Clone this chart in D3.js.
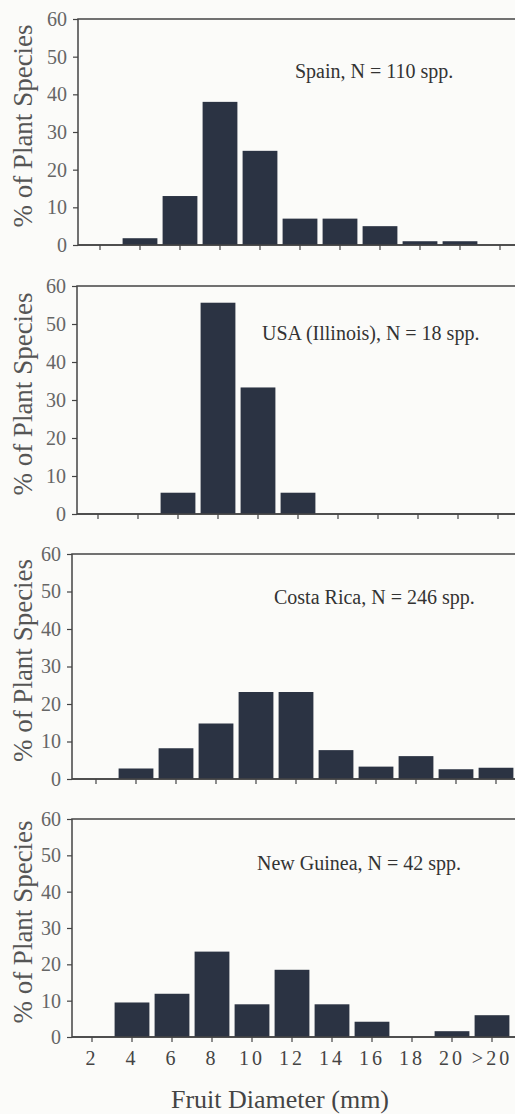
<!DOCTYPE html>
<html lang="en">
<head>
    <meta charset="UTF-8">
    <title>Fruit diameter</title>
    <style>
        body { margin: 0; background: #fbfbf9; }
        text { font-family: "Liberation Serif", "DejaVu Serif", serif; }
    </style>
</head>
<body>
<script src="https://cdn.jsdelivr.net/npm/d3@7"></script>
<script>
    // categories (fruit diameter, mm)
    var categories = ["2", "4", "6", "8", "10", "12", "14", "16", "18", "20", ">20"];
    var yTicks = [0, 10, 20, 30, 40, 50, 60];

    // % of plant species per region
    var spain    = [0, 1.8, 13, 38, 25, 7, 7, 5, 1, 1, 0];
    var illinois = [0, 0, 5.6, 55.6, 33.3, 5.6, 0, 0, 0, 0, 0];
    var costa    = [0, 2.8, 8.2, 14.8, 23.2, 23.2, 7.7, 3.3, 6.1, 2.6, 3];
    var guinea   = [0, 9.5, 11.9, 23.5, 9, 18.5, 9, 4.2, 0, 1.6, 6];

    var titles = ["Spain, N = 110 spp.", "USA (Illinois), N = 18 spp.",
                  "Costa Rica, N = 246 spp.", "New Guinea, N = 42 spp."];

    // panel placement (scanned page is slightly skewed)
    var panels = [
        {values: spain,    top: 19,  zero: 245,  left: 78, first: 100, tx: 295, ty: 78},
        {values: illinois, top: 286, zero: 514,  left: 77, first: 98,  tx: 262, ty: 340},
        {values: costa,    top: 554, zero: 779,  left: 72, first: 96,  tx: 274, ty: 604},
        {values: guinea,   top: 819, zero: 1037, left: 72, first: 92,  tx: 257, ty: 870}
    ];

    var svg = d3.select("body").append("svg")
            .attr("width", 515)
            .attr("height", 1114);

    panels.forEach(function(p, i) {
        var x = d3.scaleBand()
                .domain(categories)
                .range([p.first - 20, p.first + 20 * 21])
                .paddingInner(0.13)
                .paddingOuter(0.065);
        var y = d3.scaleLinear().domain([0, 60]).range([p.zero, p.top]);

        var g = svg.append("g");

        // frame: top line, right edge off-page
        g.append("rect")
                .attr("x", p.left)
                .attr("y", p.top)
                .attr("width", 540 - p.left)
                .attr("height", p.zero - p.top)
                .attr("fill", "none")
                .attr("stroke", "#444")
                .attr("stroke-width", 1.5);

        g.selectAll("rect.bar")
                .data(p.values)
                .enter().append("rect")
                .attr("class", "bar")
                .attr("x", function(d, j) { return x(categories[j]); })
                .attr("y", function(d) { return y(d); })
                .attr("width", x.bandwidth())
                .attr("height", function(d) { return p.zero - y(d); })
                .attr("fill", "#2b3343");

        // y axis
        var ya = g.append("g")
                .attr("transform", "translate(" + p.left + ",0)")
                .call(d3.axisLeft(y).tickValues(yTicks).tickSize(5).tickPadding(6));
        ya.select(".domain").remove();
        ya.selectAll("line").attr("stroke", "#444").attr("stroke-width", 1.2);
        ya.selectAll("text")
                .attr("font-size", 20)
                .attr("fill", "#666")
                .style("font-family", "'Liberation Serif', serif");

        // x axis
        var xa = g.append("g")
                .attr("transform", "translate(0," + p.zero + ")")
                .call(d3.axisBottom(x).tickSize(5).tickPadding(9));
        xa.select(".domain").remove();
        xa.selectAll("line").attr("stroke", "#444").attr("stroke-width", 1.2);
        if (i < 3) {
            xa.selectAll("text").remove();
        } else {
            xa.selectAll("text")
                    .attr("font-size", 20)
                    .attr("fill", "#444")
                    .attr("letter-spacing", 3)
                    .style("font-family", "'Liberation Serif', serif");
        }

        g.append("line")
                .attr("x1", p.left).attr("x2", 540)
                .attr("y1", p.zero).attr("y2", p.zero)
                .attr("stroke", "#444")
                .attr("stroke-width", 1.5);

        g.append("text")
                .attr("x", p.tx)
                .attr("y", p.ty)
                .attr("font-size", 20)
                .attr("fill", "#333")
                .text(titles[i]);

        g.append("text")
                .attr("transform", "translate(32," + ((p.top + p.zero) / 2 - 6) + ") rotate(-90)")
                .attr("text-anchor", "middle")
                .attr("font-size", 27)
                .attr("fill", "#555")
                .text("% of Plant Species");
    });

    svg.append("text")
            .attr("x", 280)
            .attr("y", 1108)
            .attr("text-anchor", "middle")
            .attr("font-size", 26)
            .attr("fill", "#444")
            .text("Fruit Diameter (mm)");
</script>
</body>
</html>
